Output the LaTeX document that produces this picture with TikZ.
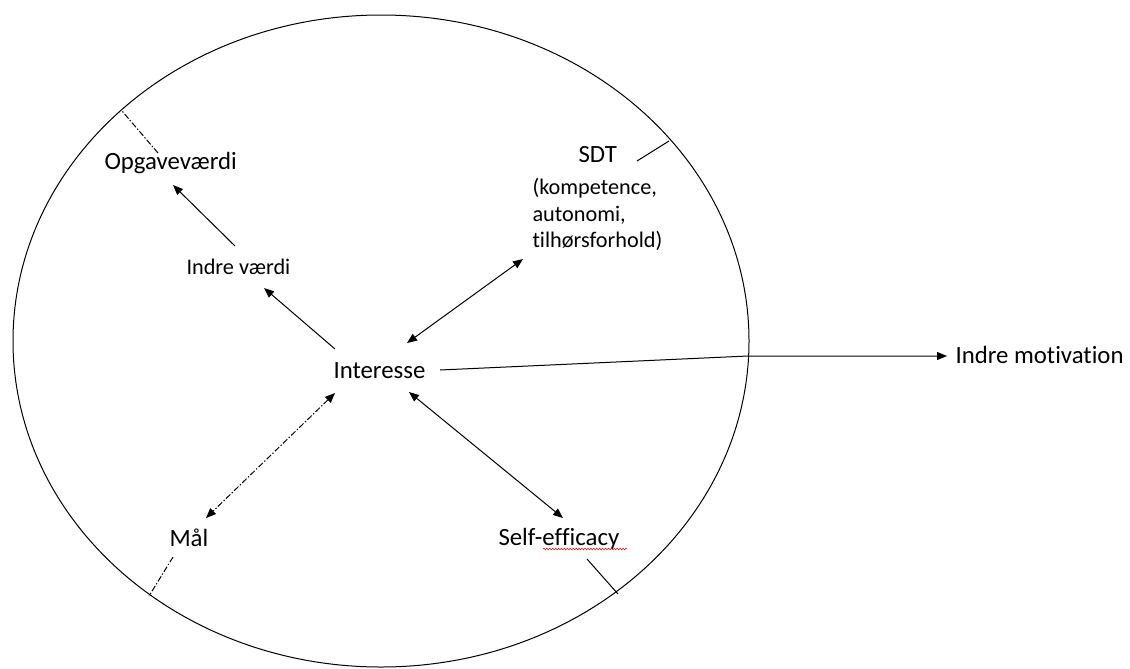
\documentclass[tikz,border=0pt]{standalone}
\usepackage{fontspec}
\setmainfont{Carlito}[Ligatures=NoCommon]
\usetikzlibrary{arrows.meta,calc,decorations.pathmorphing}

\begin{document}
\begin{tikzpicture}
        [x=0.75pt, y=-0.75pt, line width=0.75pt,
        every node/.style={inner sep=0, anchor=base west, font=\fontsize{18.6}{22}\selectfont},
        small/.style={font=\fontsize{16.7}{19.9}\selectfont},
        tip/.style={-{Triangle[length=7.5pt,width=6pt]}},
        both/.style={{Triangle[length=7.5pt,width=6pt]}-{Triangle[length=7.5pt,width=6pt]}},
        dashdot/.style={dash pattern=on 4.5pt off 1.5pt on 1pt off 1.5pt}]

        \useasboundingbox (0,0) rectangle (1130,668);

        \draw (381,341) ellipse [x radius=276pt, y radius=244.5pt];

        \node (opg) at (104,169) {Opgaveværdi};
        \node[small] (indre) at (186,274) {Indre værdi};
        \node (sdt) at (578,162) {SDT};
        \node[small, align=left, anchor=north west] (sdtlist) at (532,178) {(kompetence,\\autonomi,\\t\kern0pt ilhørsforhold)};
        \node (interesse) at (333,378) {Interesse};
        \node (mal) at (169,546) {Mål};
        \node (self) at (498,545) {Self-ef\kern0pt f\kern0pt icacy};
        \node (motiv) at (955,363) {Indre mot\kern0pt ivat\kern0pt ion};

        \coordinate (rimopg) at (122,111);
        \coordinate (rimsdt) at (669,141);
        \coordinate (rimmal) at (149,596);
        \coordinate (rimself) at (618,594);
        \coordinate (rimmotiv) at (748,356);

        \draw[tip] ($(indre.base west)+(49,-28)$) -- ($(opg.base west)+(69,16)$);
        \draw[tip] ($(interesse.base west)+(2,-29)$) -- ($(indre.base west)+(78,14)$);
        \draw[both] ($(interesse.base west)+(74,-35)$) -- ($(sdt.base west)+(-55,97)$);
        \draw[tip] ($(interesse.base west)+(107,-8)$) -- (rimmotiv) -- ($(motiv.base west)+(-8,-7)$);
        \draw[both] ($(interesse.base west)+(76,14)$) -- ($(self.base west)+(65,-27)$);
        \draw[both, dashdot] ($(interesse.base west)+(2,15)$) -- ($(mal.base west)+(37,-28)$);
        \draw[dashdot] ($(opg.base west)+(54,-16)$) -- (rimopg);
        \draw[dashdot] ($(mal.base west)+(4,11)$) -- (rimmal);
        \draw ($(sdt.base west)+(59,-1)$) -- (rimsdt);
        \draw ($(self.base west)+(89,14)$) -- (rimself);
        \draw[red, line width=0.4pt, decorate, decoration={snake, amplitude=0.6pt, segment length=2.2pt}] ($(self.base west)+(45,4)$) -- ($(self.base west)+(129,4)$);
      \end{tikzpicture}
\end{document}
